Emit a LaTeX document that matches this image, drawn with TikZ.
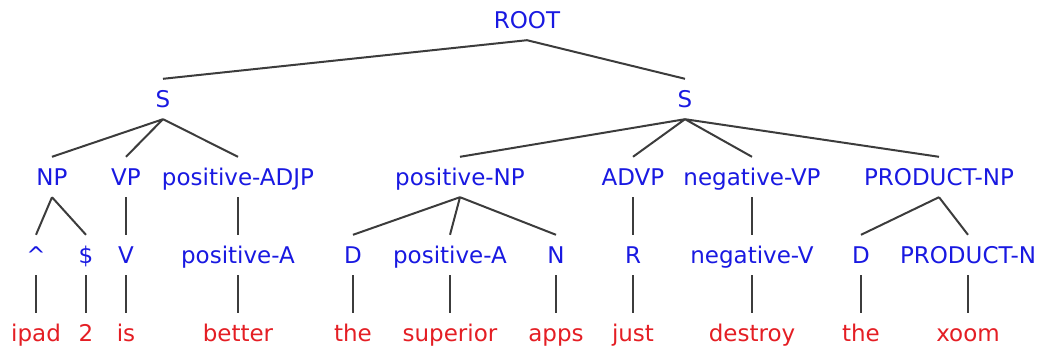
\documentclass[tikz,border=0pt]{standalone}
\usepackage{fontspec}
\setmainfont{DejaVu Sans}
\usepackage{tikz}

\definecolor{catblue}{RGB}{25,25,225}
\definecolor{wordred}{RGB}{228,30,36}
\definecolor{edgegray}{RGB}{60,60,60}

\begin{document}
\begin{tikzpicture}[
        x=1pt, y=-1pt,
        every node/.style={anchor=base, inner xsep=2pt, inner ysep=6pt,
          text height=22pt, text depth=6pt, font=\fontsize{23}{26}\selectfont},
        cat/.style={text=catblue},
        word/.style={text=wordred},
        branch/.style={draw=edgegray, line width=2pt}
      ]
      \useasboundingbox (0,0) rectangle (1044,348);
      % categories
      \node[cat] (root) at (527,28) {ROOT};
      \node[cat] (sl) at (163,107) {S};
      \node[cat] (sr) at (685,107) {S};
      \node[cat] (np) at (52,185) {NP};
      \node[cat] (vp) at (126,185) {VP};
      \node[cat] (adjp) at (238,185) {positive-ADJP};
      \node[cat] (pnp) at (460,185) {positive-NP};
      \node[cat] (advp) at (633,185) {ADVP};
      \node[cat] (nvp) at (752,185) {negative-VP};
      \node[cat] (prnp) at (939,185) {PRODUCT-NP};
      \node[cat] (hat) at (36,263) {\^{}};
      \node[cat] (dol) at (86,263) {\$};
      \node[cat] (v) at (126,263) {V};
      \node[cat] (pa1) at (238,263) {positive-A};
      \node[cat] (d1) at (353,263) {D};
      \node[cat] (pa2) at (450,263) {positive-A};
      \node[cat] (n) at (556,263) {N};
      \node[cat] (r) at (633,263) {R};
      \node[cat] (nv) at (752,263) {negative-V};
      \node[cat] (d2) at (861,263) {D};
      \node[cat] (prn) at (968,263) {PRODUCT-N};
      % words
      \node[word] (w1) at (36,341) {ipad};
      \node[word] (w2) at (86,341) {2};
      \node[word] (w3) at (126,341) {is};
      \node[word] (w4) at (238,341) {better};
      \node[word] (w5) at (353,341) {the};
      \node[word] (w6) at (450,341) {superior};
      \node[word] (w7) at (556,341) {apps};
      \node[word] (w8) at (633,341) {just};
      \node[word] (w9) at (752,341) {destroy};
      \node[word] (w10) at (861,341) {the};
      \node[word] (w11) at (968,341) {xoom};
      % branches
      \draw[branch] (root.south) -- (sl.north) (root.south) -- (sr.north);
      \draw[branch] (sl.south) -- (np.north) (sl.south) -- (vp.north)
        (sl.south) -- (adjp.north);
      \draw[branch] (sr.south) -- (pnp.north) (sr.south) -- (advp.north)
        (sr.south) -- (nvp.north) (sr.south) -- (prnp.north);
      \draw[branch] (np.south) -- (hat.north) (np.south) -- (dol.north);
      \draw[branch] (vp.south) -- (v.north);
      \draw[branch] (adjp.south) -- (pa1.north);
      \draw[branch] (pnp.south) -- (d1.north) (pnp.south) -- (pa2.north)
        (pnp.south) -- (n.north);
      \draw[branch] (advp.south) -- (r.north);
      \draw[branch] (nvp.south) -- (nv.north);
      \draw[branch] (prnp.south) -- (d2.north) (prnp.south) -- (prn.north);
      \draw[branch] (hat.south) -- (w1.north);
      \draw[branch] (dol.south) -- (w2.north);
      \draw[branch] (v.south) -- (w3.north);
      \draw[branch] (pa1.south) -- (w4.north);
      \draw[branch] (d1.south) -- (w5.north);
      \draw[branch] (pa2.south) -- (w6.north);
      \draw[branch] (n.south) -- (w7.north);
      \draw[branch] (r.south) -- (w8.north);
      \draw[branch] (nv.south) -- (w9.north);
      \draw[branch] (d2.south) -- (w10.north);
      \draw[branch] (prn.south) -- (w11.north);
    \end{tikzpicture}
\end{document}
